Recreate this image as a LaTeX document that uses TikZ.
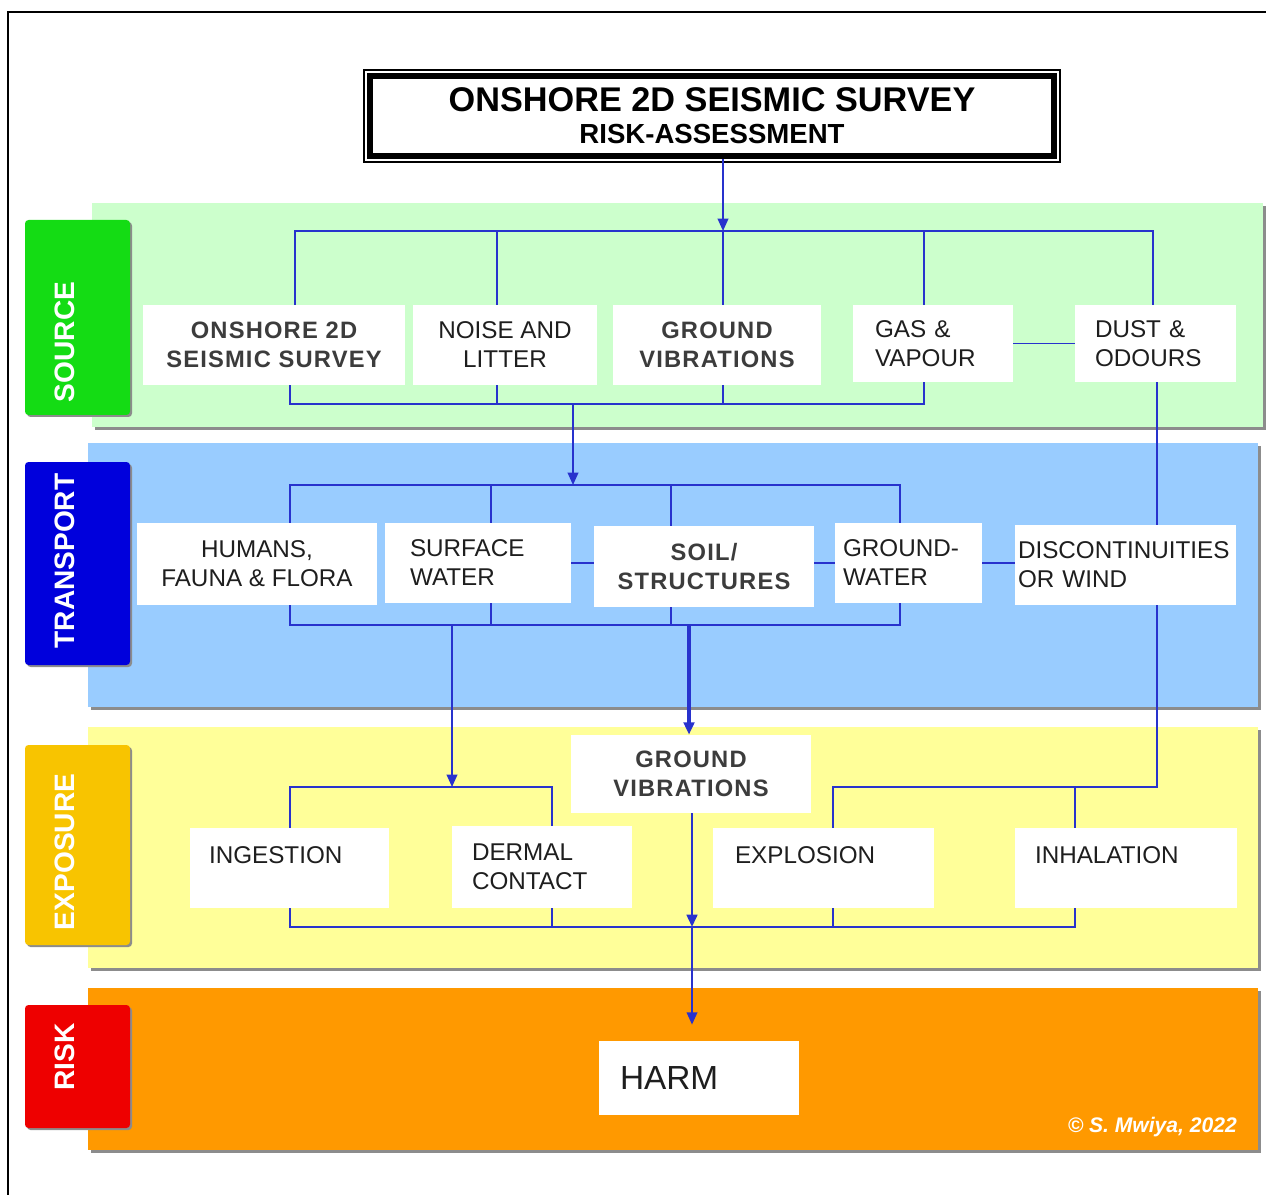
\documentclass[tikz,border=0pt]{standalone}
\usepackage{xcolor}
\usepackage{fontspec}
\setmainfont{Liberation Sans}
\newfontfamily\spacedfont[LetterSpace=5]{Liberation Sans}
\usepackage{tikz}
\usetikzlibrary{arrows.meta}

\definecolor{linkblue}{RGB}{40,50,205}
\definecolor{srcband}{RGB}{204,255,204}
\definecolor{srctab}{RGB}{20,220,20}
\definecolor{trband}{RGB}{153,204,255}
\definecolor{trtab}{RGB}{0,0,220}
\definecolor{exband}{RGB}{255,255,153}
\definecolor{extab}{RGB}{248,196,0}
\definecolor{rkband}{RGB}{255,153,0}
\definecolor{rktab}{RGB}{238,0,0}
\definecolor{boxtext}{RGB}{30,30,30}
\definecolor{softtext}{RGB}{60,60,60}

\begin{document}
\begin{tikzpicture}[x=0.02cm, y=-0.02cm,
	box/.style={fill=white, inner sep=0pt, align=center, text=boxtext, font=\fontsize{13.8}{16.5}\selectfont},
	heavy/.style={box, text=softtext, font=\spacedfont\bfseries\fontsize{13.5}{16.5}\selectfont},
	lbox/.style={box, align=left, text width=#1},
	upper/.style={text height=10pt, text depth=15pt},
	tablabel/.style={rotate=90, text=white, font=\bfseries\fontsize{16}{16}\selectfont},
	link/.style={draw=linkblue, line width=1.1pt},
	flow/.style={link, -{Triangle[length=7pt,width=6pt]}},
	shade/.style={fill=black!45}]
			\useasboundingbox (0,0) rectangle (1266,1195);
			\draw[line width=1.4pt] (8,1195) -- (8,12) -- (1266,12);

			\fill[shade] (95,206) rectangle (1266,430);
			\fill[srcband] (92,203) rectangle (1263,427);
			\fill[shade] (91,446) rectangle (1261,710);
			\fill[trband] (88,443) rectangle (1258,707);
			\fill[shade] (91,730) rectangle (1261,971);
			\fill[exband] (88,727) rectangle (1258,968);
			\fill[shade] (91,991) rectangle (1261,1153);
			\fill[rkband] (88,988) rectangle (1258,1150);

			\fill[shade, rounded corners=2pt] (27,222) rectangle (132,417);
			\fill[srctab, rounded corners=2pt] (25,220) rectangle (130,415);
			\fill[shade, rounded corners=2pt] (27,464) rectangle (132,667);
			\fill[trtab, rounded corners=2pt] (25,462) rectangle (130,665);
			\fill[shade, rounded corners=2pt] (27,747) rectangle (132,947);
			\fill[extab, rounded corners=2pt] (25,745) rectangle (130,945);
			\fill[shade, rounded corners=2pt] (27,1007) rectangle (132,1130);
			\fill[rktab, rounded corners=2pt] (25,1005) rectangle (130,1128);

			\node[tablabel] (source) at (65,342) {SOURCE};
			\node[tablabel] (transport) at (65,561) {TRANSPORT};
			\node[tablabel] (exposure) at (65,852) {EXPOSURE};
			\node[tablabel] (risk) at (65,1057) {RISK};

			\node[draw, fill=white, line width=0.12cm, inner sep=0pt, minimum width=13.68cm, minimum height=1.6cm, align=center, font=\bfseries\fontsize{19.5}{18.2}\selectfont] (title) at (712,116) {ONSHORE 2D SEISMIC SURVEY\\{\fontsize{15.7}{18.2}\selectfont RISK-ASSESSMENT}};
			\draw[line width=0.8pt] ([shift={(-3,3)}]title.south west) rectangle ([shift={(3,-3)}]title.north east);

			\node[heavy, minimum width=5.24cm, minimum height=1.6cm] (s1) at (274,345) {ONSHORE 2D\\SEISMIC SURVEY};
			\node[box, minimum width=3.68cm, minimum height=1.6cm] (s2) at (505,345) {NOISE AND\\LITTER};
			\node[heavy, minimum width=4.16cm, minimum height=1.6cm] (s3) at (717,345) {GROUND\\VIBRATIONS};
			\node[lbox=2.32cm, minimum width=3.2cm, minimum height=1.54cm] (s4) at (933,343.5) {GAS \&\\VAPOUR};
			\node[lbox=2.42cm, minimum width=3.22cm, minimum height=1.54cm] (s5) at (1155.5,343.5) {DUST \&\\ODOURS};

			\node[box, minimum width=4.8cm, minimum height=1.64cm] (t1) at (257,564) {HUMANS,\\FAUNA \& FLORA};
			\node[lbox=2.72cm, minimum width=3.72cm, minimum height=1.6cm] (t2) at (478,563) {SURFACE\\WATER};
			\node[heavy, minimum width=4.4cm, minimum height=1.62cm] (t3) at (704,566.5) {SOIL/\\STRUCTURES};
			\node[lbox=2.62cm, minimum width=2.94cm, minimum height=1.6cm] (t4) at (908.5,563) {GROUND-\\WATER};
			\node[lbox=4.3cm, minimum width=4.42cm, minimum height=1.6cm] (t5) at (1125.5,565) {DISCONTINUITIES\\OR WIND};

			\node[heavy, minimum width=4.8cm, minimum height=1.56cm] (gv) at (691,774) {GROUND\\VIBRATIONS};
			\node[lbox=3.22cm, upper, minimum width=3.98cm, minimum height=1.6cm] (e1) at (289.5,868) {INGESTION};
			\node[lbox=2.8cm, minimum width=3.6cm, minimum height=1.64cm] (e2) at (542,867) {DERMAL\\CONTACT};
			\node[lbox=3.54cm, upper, minimum width=4.42cm, minimum height=1.6cm] (e3) at (823.5,868) {EXPLOSION};
			\node[lbox=3.64cm, upper, minimum width=4.44cm, minimum height=1.6cm] (e4) at (1126,868) {INHALATION};

			\node[lbox=3.16cm, minimum width=4cm, minimum height=1.48cm, font=\fontsize{19}{19}\selectfont] (harm) at (699,1078) {HARM};
			\node[anchor=east, text=white, font=\bfseries\itshape\fontsize{12}{12}\selectfont] (credit) at (1243,1127) {© S. Mwiya, 2022};

			\coordinate (sb1) at (295,231);
			\coordinate (sb2) at (497,231);
			\coordinate (sb3) at (723,231);
			\coordinate (sb4) at (924,231);
			\coordinate (sb5) at (1153,231);
			\draw[flow] (title.south -| sb3) -- (sb3);
			\draw[link] (s1.north -| sb1) -- (sb1) -- (sb5) -- (s5.north -| sb5);
			\foreach \c/\n in {sb2/s2, sb3/s3, sb4/s4}
				\draw[link] (\c) -- (\n.north -| \c);
			\draw[link] (s4) -- (s5);

			\coordinate (sl1) at (290,404);
			\coordinate (sl2) at (497,404);
			\coordinate (sl3) at (723,404);
			\coordinate (sl4) at (924,404);
			\draw[link] (s1.south -| sl1) -- (sl1) -- (sl4) -- (s4.south -| sl4);
			\foreach \c/\n in {sl2/s2, sl3/s3}
				\draw[link] (\n.south -| \c) -- (\c);

			\coordinate (sout) at (573,404);
			\coordinate (tin) at (573,485);
			\draw[flow] (sout) -- (tin);

			\coordinate (tb1) at (290,485);
			\coordinate (tb2) at (491,485);
			\coordinate (tb3) at (671,485);
			\coordinate (tbk) at (705,485);
			\coordinate (tb4) at (900,485);
			\draw[link] (t1.north -| tb1) -- (tb1) -- (tbk);
			\draw[link, line width=1.5pt] (tbk) -- (tb4) -- (t4.north -| tb4);
			\foreach \c/\n in {tb2/t2, tb3/t3}
				\draw[link] (\c) -- (\n.north -| \c);
			\draw[link] (t2.east) -- (t2.east -| t3.west);
			\draw[link] (t4.west -| t3.east) -- (t4.west);
			\draw[link] (t4.east) -- (t4.east -| t5.west);

			\coordinate (tl1) at (290,625);
			\coordinate (tl2) at (491,625);
			\coordinate (tl3) at (671,625);
			\coordinate (tvib) at (689,625);
			\coordinate (tl4) at (900,625);
			\draw[link] (t1.south -| tl1) -- (tl1) -- (tvib);
			\draw[link, line width=1.5pt] (tvib) -- (tl4) -- (t4.south -| tl4);
			\foreach \c/\n in {tl2/t2, tl3/t3}
				\draw[link] (\n.south -| \c) -- (\c);

			\coordinate (tout) at (452,625);
			\coordinate (el) at (452,787);
			\draw[flow] (tout) -- (el);
			\draw[flow, line width=2pt] (tvib) -- (gv.north -| tvib);

			\coordinate (dk) at (1157,787);
			\coordinate (ek1) at (833,787);
			\coordinate (ek2) at (1075,787);
			\draw[link] (s5.south -| dk) -- (t5.north -| dk);
			\draw[link] (t5.south -| dk) -- (dk) -- (ek1) -- (e3.north -| ek1);
			\draw[link] (ek2) -- (e4.north -| ek2);

			\coordinate (el1) at (290,787);
			\coordinate (el2) at (552,787);
			\draw[link] (e1.north -| el1) -- (el1) -- (el2) -- (e2.north -| el2);

			\coordinate (eb1) at (290,927);
			\coordinate (eb4) at (1075,927);
			\coordinate (gvout) at (692,927);
			\draw[link] (e1.south -| eb1) -- (eb1) -- (eb4) -- (e4.south -| eb4);
			\draw[link] (e2.south -| el2) -- (el2 |- eb1);
			\draw[link] (e3.south -| ek1) -- (ek1 |- eb1);
			\draw[flow, line width=1.6pt] (gv.south -| gvout) -- (gvout);
			\draw[flow, shorten >=0.32cm] (gvout) -- (harm.north -| gvout);
		\end{tikzpicture}
\end{document}
